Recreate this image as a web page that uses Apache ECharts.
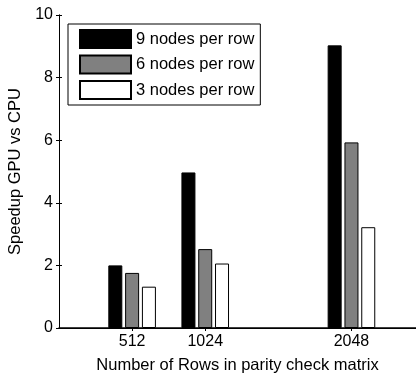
<!DOCTYPE html>
<html>
<head>
<meta charset="utf-8">
<script src="https://cdn.jsdelivr.net/npm/echarts@6/dist/echarts.min.js"></script>
<style>
  html, body { margin: 0; padding: 0; background: #fff; }
  #chart { width: 416px; height: 374px; }
</style>
</head>
<body>
<div id="chart"></div>
<script>
// Filas de la matriz de paridad (eje x numérico)
var filas = [512, 1024, 2048];
var nombresSeries = ["9 nodes per row", "6 nodes per row", "3 nodes per row"];
var speedup9 = [2.0, 4.97, 9.03];
var speedup6 = [1.76, 2.52, 5.93];
var speedup3 = [1.32, 2.06, 3.22];
var colores = ["#000000", "#808080", "#ffffff"];

var fuente = "Liberation Sans, Arial, sans-serif";

function serie(nombre, valores, color) {
  return {
    name: nombre,
    type: "bar",
    barWidth: 14,
    barGap: "20%",
    data: filas.map(function (f, i) { return [f, valores[i]]; }),
    itemStyle: { color: color, borderColor: "#000", borderWidth: 1 },
    xAxisIndex: 0,
    yAxisIndex: 0
  };
}

var chart = echarts.init(document.getElementById("chart"), null, { renderer: "canvas" });

var ejeLinea = { show: true, lineStyle: { color: "#000", width: 1 } };

chart.setOption({
  animation: false,
  backgroundColor: "#fff",
  textStyle: { fontFamily: fuente },
  grid: { left: 59, top: 15, width: 357, height: 313, containLabel: false, outerBoundsMode: "none" },
  legend: {
    left: 68,
    top: 24,
    orient: "vertical",
    icon: "rect",
    itemWidth: 51,
    itemHeight: 18,
    itemGap: 5.5,
    padding: [5, 6, 5, 11],
    borderColor: "#000",
    borderWidth: 1,
    backgroundColor: "#fff",
    textStyle: { fontSize: 16.5, color: "#000", fontFamily: fuente },
    data: nombresSeries
  },
  xAxis: [
    {
      type: "value",
      min: 0,
      max: 2500,
      name: "Number of Rows in parity check matrix",
      nameLocation: "middle",
      nameGap: 29,
      nameTextStyle: { fontSize: 16.5, color: "#000", fontFamily: fuente },
      axisLine: { show: true, lineStyle: { color: "#000", width: 1.5 } },
      axisTick: { show: true, inside: true, length: 3, customValues: filas, lineStyle: { color: "#000" } },
      axisLabel: {
        customValues: filas, fontSize: 16, color: "#000", margin: 6, fontFamily: fuente,
        formatter: function (v) { return String(v); }
      },
      splitLine: { show: false }
    },
    {
      type: "value",
      position: "top",
      min: 0,
      max: 2500,
      axisLine: ejeLinea,
      axisTick: { show: true, inside: true, length: 3, customValues: filas, lineStyle: { color: "#000" } },
      axisLabel: { show: false },
      splitLine: { show: false }
    }
  ],
  yAxis: [
    {
      type: "value",
      min: 0,
      max: 10,
      interval: 2,
      name: "Speedup GPU vs CPU",
      nameLocation: "middle",
      nameGap: 35,
      nameTextStyle: { fontSize: 16.5, color: "#000", fontFamily: fuente },
      axisLine: ejeLinea,
      axisTick: { show: true, inside: true, length: 3, lineStyle: { color: "#000" } },
      axisLabel: { fontSize: 16, color: "#000", margin: 6, fontFamily: fuente },
      splitLine: { show: false }
    },
    {
      type: "value",
      position: "right",
      min: 0,
      max: 10,
      interval: 2,
      axisLine: ejeLinea,
      axisTick: { show: true, inside: true, length: 3, lineStyle: { color: "#000" } },
      axisLabel: { show: false },
      splitLine: { show: false }
    }
  ],
  series: [
    serie(nombresSeries[0], speedup9, colores[0]),
    serie(nombresSeries[1], speedup6, colores[1]),
    serie(nombresSeries[2], speedup3, colores[2])
  ]
});
</script>
</body>
</html>
